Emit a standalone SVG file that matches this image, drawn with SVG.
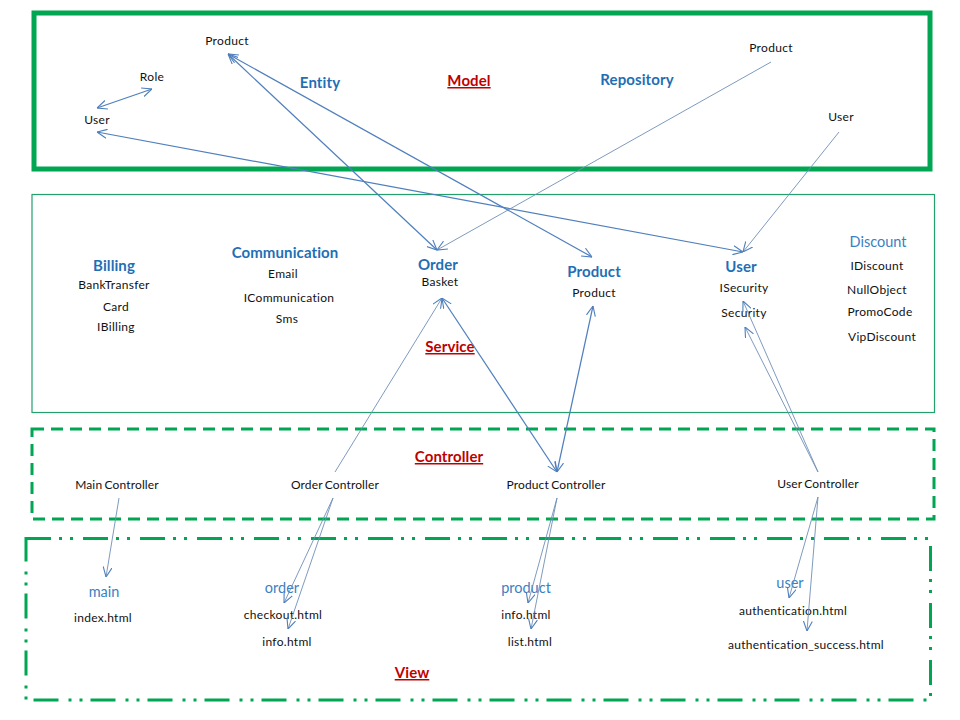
<svg xmlns="http://www.w3.org/2000/svg" width="960" height="720" viewBox="0 0 960 720">
<style>
text{font-family:Lato,"Liberation Sans",sans-serif;text-anchor:middle}
.t{font-size:12px;fill:#111;letter-spacing:0.3px}
.k{word-spacing:-1px;letter-spacing:0.15px}
.h{font-size:15px;font-weight:bold;fill:#1f6fb5;letter-spacing:0.1px}
.p{font-size:14.5px;fill:#3b7fc2}
.r{font-size:15px;font-weight:bold;fill:#c00000;text-decoration:underline;letter-spacing:0.1px}
.c{fill:none;stroke:#4f7fbd;stroke-width:1.2}
.c2{fill:none;stroke:#6f8fb8;stroke-width:0.9}
</style>
<defs>
<marker id="a" viewBox="0 0 10 10" refX="10" refY="5" markerWidth="10" markerHeight="10" markerUnits="userSpaceOnUse" orient="auto-start-reverse">
<path d="M0,0.5 L10,5 L0,9.5" fill="none" stroke="#4f7fbd" stroke-width="1.1"/>
</marker>
</defs>
<rect width="960" height="720" fill="#fff"/>
<g id="layers">
<rect id="model" x="34" y="13" width="896" height="156" fill="none" stroke="#00a651" stroke-width="5"/>
<rect id="service" x="32" y="194.5" width="902.5" height="218" fill="none" stroke="#23a06b" stroke-width="1.2"/>
<rect id="controller" x="32" y="429" width="902" height="90" fill="none" stroke="#00a651" stroke-width="3" stroke-dasharray="12 7"/>
<rect id="view" x="26" y="538.5" width="904.5" height="161.5" fill="none" stroke="#00a651" stroke-width="3" stroke-dasharray="25 8 3 8 3 10"/>
</g>
<g id="model-nodes">
<g id="n-model"><text class="r" x="469" y="86">Model</text></g>
<g id="n-entity"><text class="h" x="320" y="88">Entity</text></g>
<g id="n-repository"><text class="h" x="637" y="85">Repository</text></g>
<g id="n-e-product"><text class="t" x="227" y="45">Product</text></g>
<g id="n-e-role"><text class="t" x="152" y="81">Role</text></g>
<g id="n-e-user"><text class="t" x="97" y="124">User</text></g>
<g id="n-r-product"><text class="t" x="771" y="52">Product</text></g>
<g id="n-r-user"><text class="t" x="841" y="121">User</text></g>
</g>
<g id="service-nodes">
<g id="n-service"><text class="r" x="450" y="352">Service</text></g>
<g id="n-billing"><text class="h" x="114" y="271">Billing</text>
<text class="t" x="114" y="289">BankTransfer</text>
<text class="t" x="116" y="311">Card</text>
<text class="t" x="116" y="331">IBilling</text></g>
<g id="n-communication"><text class="h" x="285" y="258">Communication</text>
<text class="t" x="283" y="278">Email</text>
<text class="t" x="289" y="302">ICommunication</text>
<text class="t" x="287" y="323">Sms</text></g>
<g id="n-order"><text class="h" x="438" y="270">Order</text>
<text class="t" x="440" y="286">Basket</text></g>
<g id="n-s-product"><text class="h" x="594" y="277">Product</text>
<text class="t" x="594" y="297">Product</text></g>
<g id="n-s-user"><text class="h" x="741" y="272">User</text>
<text class="t" x="744" y="292">ISecurity</text>
<text class="t" x="744" y="317">Security</text></g>
<g id="n-discount"><text class="p" x="878" y="247">Discount</text>
<text class="t" x="877" y="270">IDiscount</text>
<text class="t" x="877" y="294">NullObject</text>
<text class="t" x="880" y="316">PromoCode</text>
<text class="t" x="882" y="341">VipDiscount</text></g>
</g>
<g id="controller-nodes">
<g id="n-controller"><text class="r" x="449" y="462">Controller</text></g>
<g id="n-main-controller"><text class="t k" x="117" y="489">Main Controller</text></g>
<g id="n-order-controller"><text class="t k" x="335" y="489">Order Controller</text></g>
<g id="n-product-controller"><text class="t k" x="556" y="489">Product Controller</text></g>
<g id="n-user-controller"><text class="t k" x="818" y="488">User Controller</text></g>
</g>
<g id="view-nodes">
<g id="n-view"><text class="r" x="412" y="678">View</text></g>
<g id="n-v-main"><text class="p" x="104" y="597">main</text>
<text class="t" x="103" y="622">index.html</text></g>
<g id="n-v-order"><text class="p" x="282" y="593">order</text>
<text class="t" x="283" y="619">checkout.html</text>
<text class="t" x="287" y="646">info.html</text></g>
<g id="n-v-product"><text class="p" x="526" y="593">product</text>
<text class="t" x="526" y="619">info.html</text>
<text class="t" x="530" y="646">list.html</text></g>
<g id="n-v-user"><text class="p" x="790" y="588">user</text>
<text class="t" x="793" y="615">authentication.html</text>
<text class="t" x="806" y="649">authentication_success.html</text></g>
</g>
<g id="connectors">
<line class="c" x1="97" y1="108" x2="152" y2="89" marker-start="url(#a)" marker-end="url(#a)"/>
<line class="c" x1="228" y1="54" x2="437" y2="250" marker-start="url(#a)" marker-end="url(#a)"/>
<line class="c" x1="228" y1="54" x2="592" y2="257" marker-start="url(#a)" marker-end="url(#a)"/>
<line class="c" x1="97" y1="132" x2="743" y2="252" marker-start="url(#a)" marker-end="url(#a)"/>
<line class="c2" x1="771" y1="62" x2="437" y2="250" marker-end="url(#a)"/>
<line class="c2" x1="839" y1="132" x2="743" y2="252" marker-end="url(#a)"/>
<line class="c2" x1="335" y1="472" x2="442" y2="298" marker-end="url(#a)"/>
<line class="c" x1="442" y1="298" x2="557" y2="472" marker-start="url(#a)" marker-end="url(#a)"/>
<line class="c" x1="593" y1="306" x2="557" y2="472" marker-start="url(#a)" marker-end="url(#a)"/>
<line class="c2" x1="818" y1="472" x2="743" y2="301" marker-end="url(#a)"/>
<line class="c2" x1="818" y1="472" x2="745" y2="327" marker-end="url(#a)"/>
<line class="c2" x1="119" y1="498" x2="106" y2="577" marker-end="url(#a)"/>
<line class="c2" x1="333" y1="498" x2="284" y2="603" marker-end="url(#a)"/>
<line class="c2" x1="333" y1="498" x2="288" y2="629" marker-end="url(#a)"/>
<line class="c2" x1="557" y1="498" x2="528" y2="603" marker-end="url(#a)"/>
<line class="c2" x1="557" y1="498" x2="531" y2="629" marker-end="url(#a)"/>
<line class="c2" x1="818" y1="497" x2="789" y2="598" marker-end="url(#a)"/>
<line class="c2" x1="818" y1="497" x2="807" y2="631" marker-end="url(#a)"/>
</g>
</svg>
